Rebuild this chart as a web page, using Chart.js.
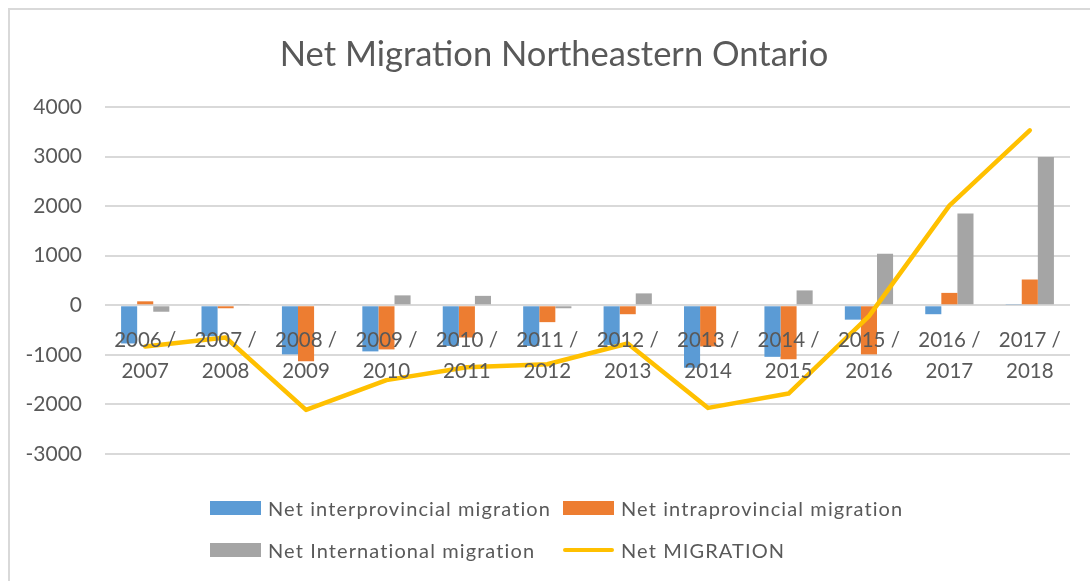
<!DOCTYPE html>
<html>
<head>
<meta charset="utf-8">
<title>Net Migration Northeastern Ontario</title>
<script src="https://cdn.jsdelivr.net/npm/chart.js@4.4.1/dist/chart.umd.min.js"></script>
<style>
  html, body { margin: 0; padding: 0; background: #fff; }
  #contenedor { position: relative; width: 1090px; height: 581px; overflow: hidden; }
  #marco {
    position: absolute; left: 8px; top: 8px; width: 1100px; height: 600px;
    border-left: 2px solid #d9d9d9; border-top: 2px solid #d9d9d9;
  }
  #grafico { position: absolute; left: 0; top: 0; }
  #leyenda {
    position: absolute; left: 210px; top: 494px;
    display: grid; grid-template-columns: 353px 353px; row-gap: 14px;
    font-family: Lato, sans-serif; font-size: 20px; letter-spacing: 1.1px; color: #595959;
  }
  .item { display: flex; align-items: center; height: 28px; white-space: nowrap; }
  .caja { width: 51px; height: 14px; margin-right: 7px; }
  .linea { width: 51px; height: 4px; border-radius: 2px; margin-right: 7px; }
</style>
</head>
<body>
<div id="contenedor">
  <div id="marco"></div>
  <canvas id="grafico" width="1090" height="581"></canvas>
  <div id="leyenda"></div>
</div>
<script>
// datos
const periodos = [
  ['2006 /', '2007'], ['2007 /', '2008'], ['2008 /', '2009'], ['2009 /', '2010'],
  ['2010 /', '2011'], ['2011 /', '2012'], ['2012 /', '2013'], ['2013 /', '2014'],
  ['2014 /', '2015'], ['2015 /', '2016'], ['2016 /', '2017'], ['2017 /', '2018']
];
const interprovincial = [-770, -625, -990, -930, -820, -820, -800, -1260, -1040, -290, -180, 15];
const intraprovincial = [80, -60, -1130, -890, -650, -340, -180, -830, -1090, -990, 250, 520];
const internacional = [-130, 15, 15, 200, 190, -60, 240, 20, 300, 1040, 1850, 2990];
const netaTotal = [-830, -650, -2110, -1510, -1250, -1190, -770, -2070, -1780, -220, 2010, 3530];

const colorTexto = '#595959';
const colorGrid = '#d9d9d9';

// leyenda en HTML para poder repetir el acomodo en dos columnas
const leyendaHTML = {
  id: 'leyendaHTML',
  afterUpdate(chart) {
    const div = document.getElementById('leyenda');
    div.innerHTML = '';
    chart.data.datasets.forEach(ds => {
      const item = document.createElement('div');
      item.className = 'item';
      const muestra = document.createElement('span');
      muestra.className = ds.type === 'line' ? 'linea' : 'caja';
      muestra.style.background = ds.type === 'line' ? ds.borderColor : ds.backgroundColor;
      const texto = document.createElement('span');
      texto.textContent = ds.label;
      item.appendChild(muestra);
      item.appendChild(texto);
      div.appendChild(item);
    });
  }
};

// el título del original va centrado un poco a la derecha
const moverTitulo = {
  id: 'moverTitulo',
  afterLayout(chart) {
    if (chart.titleBlock) chart.titleBlock.left = 38;
  }
};

function crearGrafico() {
  const ctx = document.getElementById('grafico');
  new Chart(ctx, {
    type: 'bar',
    data: {
      labels: periodos,
      datasets: [
        { label: 'Net interprovincial migration', data: interprovincial, backgroundColor: '#5b9bd5', order: 1 },
        { label: 'Net intraprovincial migration', data: intraprovincial, backgroundColor: '#ed7d31', order: 1 },
        { label: 'Net International migration', data: internacional, backgroundColor: '#a5a5a5', order: 1 },
        {
          type: 'line', label: 'Net MIGRATION', data: netaTotal,
          borderColor: '#ffc000', backgroundColor: '#ffc000', borderWidth: 4.5,
          pointRadius: 0, tension: 0, borderCapStyle: 'round', borderJoinStyle: 'round', order: 0
        }
      ]
    },
    options: {
      responsive: false,
      animation: false,
      layout: { padding: { top: 0, left: 0, right: 20, bottom: 127 } },
      datasets: { bar: { categoryPercentage: 0.6, barPercentage: 1.0 } },
      plugins: {
        legend: { display: false },
        tooltip: { enabled: false },
        title: {
          display: true,
          text: 'Net Migration Northeastern Ontario',
          color: colorTexto,
          font: { family: 'Lato', size: 34.5, weight: 'normal', lineHeight: 1.2 },
          padding: { top: 34, bottom: 31.6 }
        }
      },
      scales: {
        x: {
          position: { y: 0 },
          grid: { display: false },
          border: { display: false },
          ticks: {
            z: 1,
            color: colorTexto,
            font: { family: 'Lato', size: 20.5, lineHeight: 1.5 },
            padding: 12,
            maxRotation: 0,
            autoSkip: false
          }
        },
        y: {
          min: -3000,
          max: 4000,
          afterFit: s => { s.width = 105; },
          grid: { color: colorGrid, lineWidth: 2, drawTicks: false },
          border: { display: false },
          ticks: {
            stepSize: 1000,
            color: colorTexto,
            font: { family: 'Lato', size: 21 },
            padding: 23,
            callback: v => String(v)
          }
        }
      }
    },
    plugins: [leyendaHTML, moverTitulo]
  });
}

document.fonts.load('21px Lato').then(crearGrafico, crearGrafico);
</script>
</body>
</html>
